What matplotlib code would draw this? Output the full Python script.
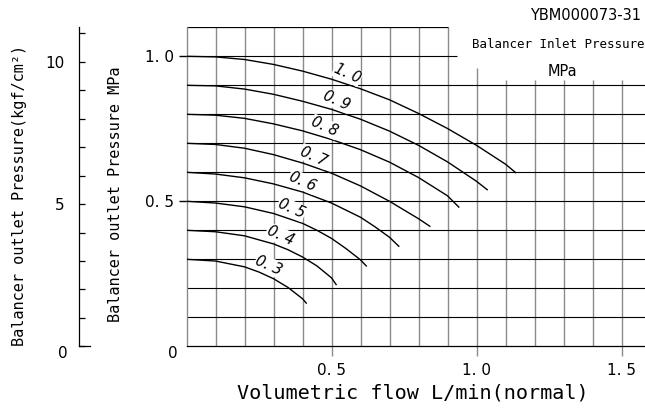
import numpy as np
import matplotlib
matplotlib.use('Agg')
import matplotlib.pyplot as plt

MPA_PER_KGF = 0.0980665

# Balancer inlet pressure (MPa) -> outlet pressure vs. flow
inlet_labels = ['1. 0', '0. 9', '0. 8', '0. 7', '0. 6', '0. 5', '0. 4', '0. 3']

flow_10 = [0, 0.1, 0.2, 0.3, 0.4, 0.5, 0.6, 0.7, 0.8, 0.9, 1.0, 1.1, 1.135]
pres_10 = [1.0, 0.998, 0.989, 0.972, 0.949, 0.921, 0.888, 0.850, 0.803, 0.751, 0.693, 0.628, 0.599]

flow_09 = [0, 0.1, 0.2, 0.3, 0.4, 0.5, 0.6, 0.7, 0.8, 0.9, 1.0, 1.037]
pres_09 = [0.9, 0.898, 0.887, 0.869, 0.845, 0.817, 0.783, 0.742, 0.693, 0.636, 0.569, 0.540]

flow_08 = [0, 0.1, 0.2, 0.3, 0.4, 0.5, 0.6, 0.7, 0.8, 0.9, 0.939]
pres_08 = [0.8, 0.797, 0.786, 0.767, 0.743, 0.713, 0.678, 0.635, 0.582, 0.519, 0.480]

flow_07 = [0, 0.1, 0.2, 0.3, 0.4, 0.5, 0.6, 0.7, 0.8, 0.839]
pres_07 = [0.7, 0.696, 0.683, 0.661, 0.632, 0.597, 0.553, 0.500, 0.440, 0.414]

flow_06 = [0, 0.1, 0.2, 0.3, 0.4, 0.5, 0.6, 0.65, 0.7, 0.732]
pres_06 = [0.6, 0.594, 0.581, 0.560, 0.532, 0.494, 0.445, 0.412, 0.376, 0.345]

flow_05 = [0, 0.1, 0.2, 0.3, 0.4, 0.45, 0.5, 0.55, 0.6, 0.620]
pres_05 = [0.5, 0.494, 0.481, 0.458, 0.424, 0.400, 0.372, 0.337, 0.298, 0.277]

flow_04 = [0, 0.1, 0.2, 0.3, 0.35, 0.4, 0.45, 0.5, 0.516]
pres_04 = [0.4, 0.395, 0.381, 0.353, 0.333, 0.308, 0.277, 0.236, 0.213]

flow_03 = [0, 0.1, 0.2, 0.25, 0.3, 0.35, 0.4, 0.413]
pres_03 = [0.3, 0.294, 0.274, 0.256, 0.233, 0.203, 0.164, 0.149]

curves = [(flow_10, pres_10), (flow_09, pres_09), (flow_08, pres_08), (flow_07, pres_07),
          (flow_06, pres_06), (flow_05, pres_05), (flow_04, pres_04), (flow_03, pres_03)]

x_ticks = [0.5, 1.0, 1.5]
x_ticklabels = ['0. 5', '1. 0', '1. 5']
y_ticks = [0.5, 1.0]
y_ticklabels = ['0. 5', '1. 0']
grid_x = np.round(np.arange(0.1, 1.51, 0.1), 2)
grid_y = np.round(np.arange(0.1, 1.01, 0.1), 2)
kgf_ticks = list(range(0, 12))

W, H = 645, 409
fig = plt.figure(figsize=(W / 100, H / 100), dpi=100)

mono = 'DejaVu Sans Mono'
x0, y0, ytop = 186.5, 346.3, 27.3
ax = fig.add_axes([x0 / W, 1 - y0 / H, 1 - x0 / W, (y0 - ytop) / H])
ax.set_xlim(0, (W - x0) / 290)
ax.set_ylim(0, 1.1)

gray = '#8a8a8a'
# vertical grid lines (gray); right-hand ones stop below the legend text
for gx in grid_x:
    if gx < 0.95:
        top = 1.1
    elif gx < 1.05:
        top = 0.96
    else:
        top = 0.92
    ax.vlines(gx, 0, top, color=gray, lw=1.0, zorder=1)
# horizontal grid lines (black)
for gy in grid_y:
    xmax = 0.933 if gy > 0.95 else ax.get_xlim()[1]
    ax.hlines(gy, 0, xmax, color='black', lw=0.8, zorder=1)
ax.hlines(1.1, 0, 0.9, color='black', lw=0.9, zorder=1)

for s in ['top', 'right']:
    ax.spines[s].set_visible(False)
ax.spines['left'].set_color(gray)
ax.spines['left'].set_linewidth(1.0)
ax.spines['bottom'].set_linewidth(0.9)

for (fx, py), lab, k in zip(curves, inlet_labels, range(8)):
    ax.plot(fx, py, color='black', lw=1.0, zorder=3, solid_joinstyle='round')
    lx = 0.545 - 0.0386 * k
    ly = np.interp(lx, fx, py)
    ax.annotate(lab, (lx, ly), xytext=(2, 7), textcoords='offset points',
                ha='center', va='center', rotation=-24, fontsize=10.5,
                style='italic', rotation_mode='anchor', zorder=4,
                bbox=dict(boxstyle='square,pad=0.05', fc='white', ec='none'))

ax.set_xticks(x_ticks)
ax.set_xticklabels(x_ticklabels, fontsize=11)
ax.set_yticks(y_ticks)
ax.set_yticklabels(y_ticklabels, fontsize=11)
ax.tick_params(axis='x', length=7.2, width=1.0, color=gray, pad=4.5)
ax.tick_params(axis='y', length=5.8, width=1.0, color='black', pad=3.5)

# kgf/cm2 scale on the far left
kx = 78.7
axk = fig.add_axes([kx / W, 1 - y0 / H, 11.3 / W, (y0 - ytop) / H])
axk.set_ylim(0, 1.1 / MPA_PER_KGF)
axk.set_xlim(0, 1)
axk.patch.set_alpha(0)
for s in ['top', 'right']:
    axk.spines[s].set_visible(False)
axk.spines['left'].set_linewidth(0.9)
axk.spines['bottom'].set_linewidth(0.9)
axk.set_xticks([])
axk.set_yticks(kgf_ticks)
axk.set_yticklabels(['' if t not in (5, 10) else str(t) for t in kgf_ticks], fontsize=11)
axk.tick_params(axis='y', direction='in', length=4.3, width=0.9, pad=10)

fig.text(63.3 / W, 1 - 353 / H, '0', fontsize=11, ha='center', va='center')
fig.text(172.7 / W, 1 - 353 / H, '0', fontsize=11, ha='center', va='center')

fig.text(20 / W, 1 - 195 / H, 'Balancer outlet Pressure(kgf/cm²)', family=mono,
         fontsize=11, rotation=90, ha='center', va='center')
fig.text(115 / W, 1 - 194.5 / H, 'Balancer outlet Pressure MPa', family=mono,
         fontsize=11, rotation=90, ha='center', va='center')
fig.text(413 / W, 1 - 393 / H, 'Volumetric flow L/min(normal)', family=mono,
         fontsize=14.5, ha='center', va='center')
fig.text(471.7 / W, 1 - 45 / H, 'Balancer Inlet Pressure', family=mono,
         fontsize=9, ha='left', va='center')
fig.text(562.5 / W, 1 - 71.7 / H, 'MPa', fontsize=10.5, ha='center', va='center')
fig.text(641 / W, 1 - 15 / H, 'YBM000073-31', fontsize=10.5, ha='right', va='center')

fig.savefig('out.png', dpi=100)
